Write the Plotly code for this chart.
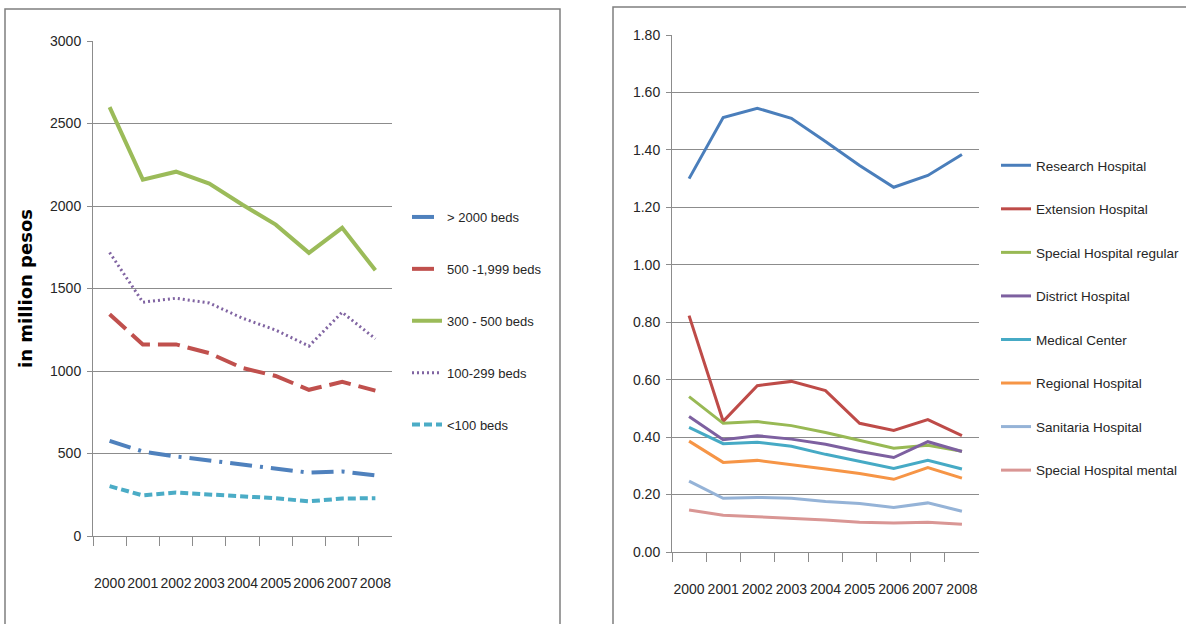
import plotly.graph_objects as go

years = ["2000", "2001", "2002", "2003", "2004", "2005", "2006", "2007", "2008"]

# left panel, in million pesos
beds_gt2000 = [577, 512, 482, 456, 432, 408, 384, 391, 367]
beds_500_1999 = [1344, 1161, 1161, 1108, 1018, 970, 886, 934, 881]
beds_300_500 = [2599, 2160, 2208, 2136, 2008, 1887, 1716, 1868, 1610]
beds_100_299 = [1718, 1417, 1441, 1412, 1320, 1248, 1151, 1356, 1195]
beds_lt100 = [302, 246, 263, 253, 239, 229, 210, 227, 229]

# right panel
research = [1.300, 1.513, 1.545, 1.510, 1.429, 1.346, 1.270, 1.311, 1.384]
extension = [0.823, 0.455, 0.579, 0.594, 0.562, 0.448, 0.423, 0.461, 0.405]
special_regular = [0.541, 0.448, 0.454, 0.440, 0.416, 0.389, 0.361, 0.372, 0.351]
district = [0.472, 0.391, 0.405, 0.393, 0.375, 0.350, 0.329, 0.384, 0.350]
medical = [0.434, 0.377, 0.382, 0.368, 0.340, 0.315, 0.291, 0.319, 0.289]
regional = [0.386, 0.312, 0.319, 0.305, 0.289, 0.273, 0.253, 0.294, 0.257]
sanitaria = [0.247, 0.187, 0.190, 0.187, 0.176, 0.169, 0.155, 0.171, 0.142]
special_mental = [0.146, 0.128, 0.123, 0.118, 0.111, 0.104, 0.101, 0.104, 0.097]

W, H = 1186, 624
FONT = "Liberation Sans, Arial, sans-serif"
TXT = "#262626"
GRID = "#8c8c8c"

def px(x):
    return x / W

def py(y):
    return 1 - y / H

fig = go.Figure()

left = [
    ("> 2000 beds", beds_gt2000, "#4F81BD", "22px,8px,3px,8px", 4),
    ("500 -1,999 beds", beds_500_1999, "#C0504D", "22px,8px", 4),
    ("300 - 500 beds", beds_300_500, "#9BBB59", "solid", 4),
    ("100-299 beds", beds_100_299, "#8064A2", "2px,3px", 3),
    ("<100 beds", beds_lt100, "#4BACC6", "8px,4px", 4),
]
for name, vals, col, dash, w in left:
    fig.add_trace(go.Scatter(x=years, y=vals, name=name, mode="lines",
                             line=dict(color=col, width=w, dash=dash),
                             xaxis="x", yaxis="y", legend="legend", legendgroup=name))

right = [
    ("Research Hospital", research, "#4A7EBB"),
    ("Extension Hospital", extension, "#BE4B48"),
    ("Special Hospital regular", special_regular, "#98B954"),
    ("District Hospital", district, "#7D60A0"),
    ("Medical Center", medical, "#46AAC5"),
    ("Regional Hospital", regional, "#F69546"),
    ("Sanitaria Hospital", sanitaria, "#95B3D7"),
    ("Special Hospital mental", special_mental, "#D99694"),
]
for name, vals, col in right:
    fig.add_trace(go.Scatter(x=years, y=vals, name=name, mode="lines",
                             line=dict(color=col, width=3),
                             xaxis="x2", yaxis="y2", legend="legend2", legendgroup=name))

xcommon = dict(type="category", range=[-0.5, 8.5], showgrid=False, showline=True,
               linecolor=GRID, linewidth=1, ticks="outside", tickson="boundaries",
               ticklen=9, tickcolor=GRID, tickangle=0, automargin=False,
               tickfont=dict(family=FONT, size=14, color=TXT), fixedrange=True)
ycommon = dict(showgrid=True, gridcolor=GRID, gridwidth=1, showline=True, linecolor=GRID,
               linewidth=1, ticks="outside", ticklen=5, tickcolor=GRID, zeroline=False,
               automargin=False, ticklabelstandoff=3,
               tickfont=dict(family=FONT, size=14, color=TXT), fixedrange=True)

fig.update_layout(
    width=W, height=H,
    margin=dict(l=0, r=0, t=0, b=0, autoexpand=False),
    paper_bgcolor="white", plot_bgcolor="white",
    showlegend=True,
    xaxis=dict(xcommon, domain=[px(93), px(392)], anchor="y", ticklabelstandoff=34),
    yaxis=dict(ycommon, domain=[py(536), py(41)], anchor="x", range=[0, 3000], dtick=500,
               title=dict(text="in million pesos", standoff=12,
                          font=dict(family="DejaVu Sans", size=18, color="black", weight="bold"))),
    xaxis2=dict(xcommon, domain=[px(672), px(979)], anchor="y2", ticklabelstandoff=24),
    yaxis2=dict(ycommon, domain=[py(552), py(35)], anchor="x2", range=[0, 1.8], dtick=0.2,
                tickformat=".2f"),
    legend=dict(x=px(407), y=py(202), xanchor="left", yanchor="top", tracegroupgap=32,
                font=dict(family=FONT, size=13, color=TXT), bgcolor="rgba(0,0,0,0)"),
    legend2=dict(x=px(996), y=py(150), xanchor="left", yanchor="top", tracegroupgap=23,
                 font=dict(family=FONT, size=13.5, color=TXT), bgcolor="rgba(0,0,0,0)"),
    shapes=[
        dict(type="rect", xref="paper", yref="paper", x0=px(5), x1=px(560), y0=-0.05, y1=py(9),
             line=dict(color="#7f7f7f", width=1.5)),
        dict(type="rect", xref="paper", yref="paper", x0=px(613), x1=1.05, y0=-0.05, y1=py(7),
             line=dict(color="#7f7f7f", width=1.5)),
    ],
)

# the page body has a default 8px margin; drop it so the figure sits at the corner
fig.write_html("out.html", config={"displayModeBar": False},
               post_script="document.body.style.margin='0px';")
